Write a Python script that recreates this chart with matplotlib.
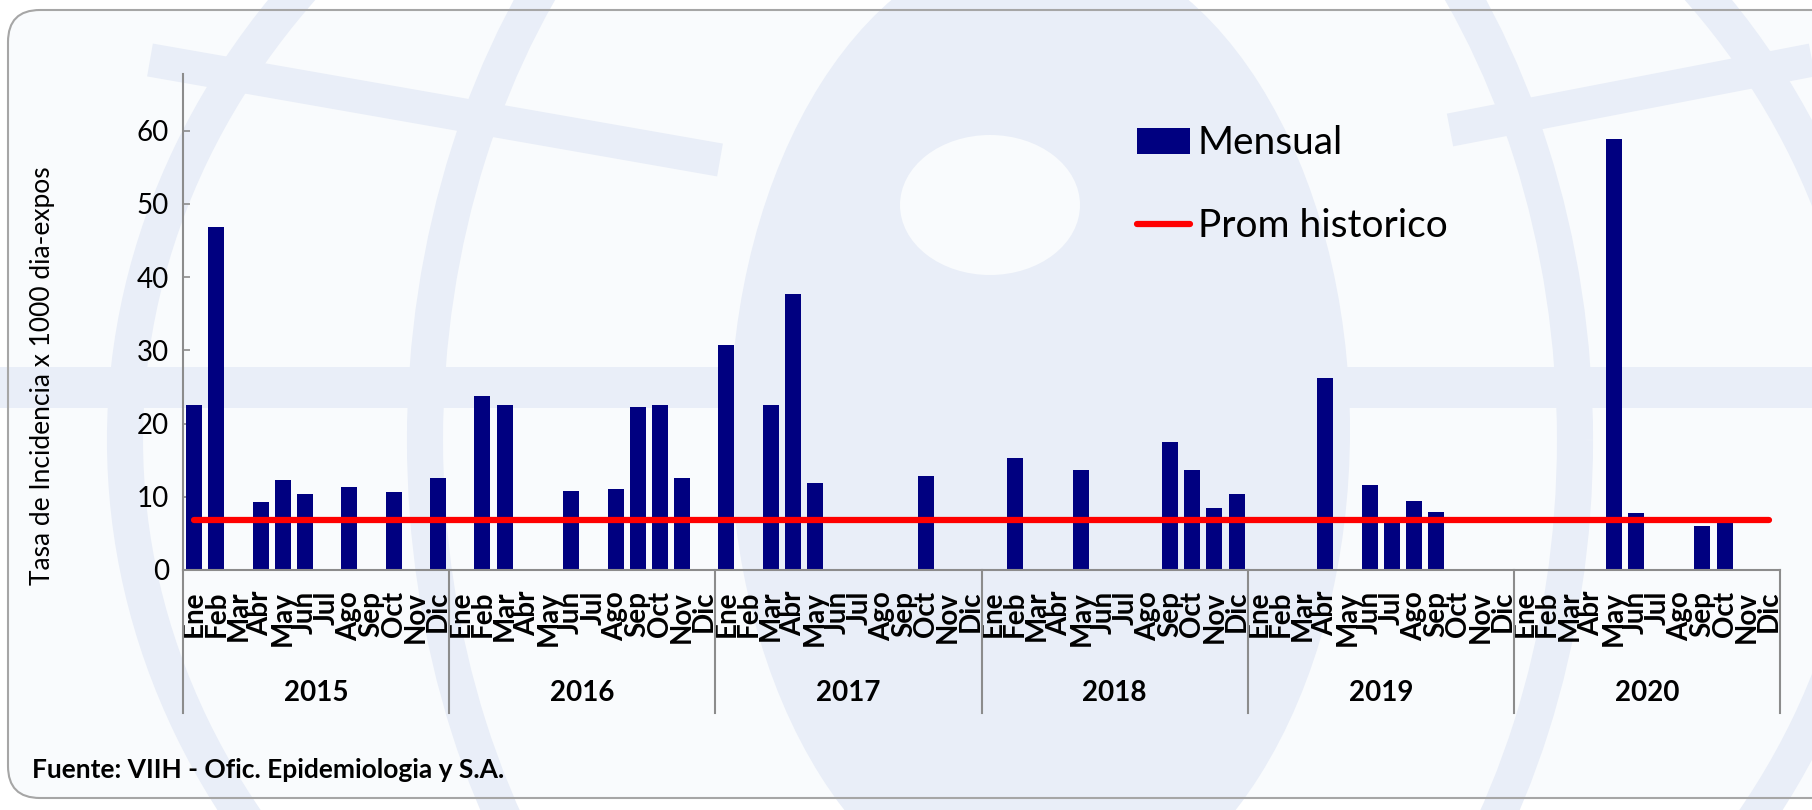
import matplotlib.pyplot as plt
import numpy as np
from matplotlib.patches import Ellipse, Arc, FancyBboxPatch, Rectangle
from matplotlib.transforms import blended_transform_factory

meses = ['Ene', 'Feb', 'Mar', 'Abr', 'May', 'Jun', 'Jul', 'Ago', 'Sep', 'Oct', 'Nov', 'Dic']
anios = ['2015', '2016', '2017', '2018', '2019', '2020']

# tasa mensual por año (0 = sin casos)
tasa_2015 = [22.6, 46.8, 0, 9.3, 12.3, 10.4, 0, 11.4, 0, 10.7, 0, 12.6]
tasa_2016 = [0, 23.7, 22.6, 0, 0, 10.8, 0, 11.1, 22.2, 22.6, 12.6, 0]
tasa_2017 = [30.7, 0, 22.6, 37.7, 11.9, 0, 0, 0, 0, 12.9, 0, 0]
tasa_2018 = [0, 15.3, 0, 0, 13.6, 0, 0, 0, 17.5, 13.7, 8.5, 10.4]
tasa_2019 = [0, 0, 0, 26.2, 0, 11.6, 6.8, 9.4, 7.9, 0, 0, 0]
tasa_2020 = [0, 0, 0, 0, 58.8, 7.8, 0, 0, 6.0, 6.9, 0, 0]
prom_historico = 6.8

mensual = tasa_2015 + tasa_2016 + tasa_2017 + tasa_2018 + tasa_2019 + tasa_2020
etiquetas = meses * len(anios)
x = np.arange(len(mensual))

plt.rcParams['font.family'] = ['Lato', 'DejaVu Sans']

W, H = 1812, 810
fig = plt.figure(figsize=(W / 100, H / 100), dpi=100)
fig.patch.set_facecolor('white')

# fondo con marca de agua
bg = fig.add_axes([0, 0, 1, 1], zorder=-5)
bg.set_xlim(0, W)
bg.set_ylim(H, 0)
bg.axis('off')
claro = '#e9eef8'
blanco = '#f9fbfd'
bg.add_patch(FancyBboxPatch((8, 10), W + 40, H - 22, boxstyle='round,pad=0,rounding_size=32',
                            facecolor=blanco, edgecolor='none'))
bg.add_patch(Rectangle((0, 367), W, 41, facecolor=claro, edgecolor='none'))
bg.add_patch(Ellipse((1040, 430), 620, 980, facecolor=claro, edgecolor='none'))
bg.add_patch(Ellipse((990, 205), 180, 140, facecolor=blanco, edgecolor='none'))
for w in [1750, 1150]:
    bg.add_artist(Arc((1000, 440), w, 1500, color=claro, linewidth=26))
bg.plot([150, 720], [60, 160], color=claro, linewidth=24, solid_capstyle='butt')
bg.plot([1450, 1812], [130, 60], color=claro, linewidth=24, solid_capstyle='butt')
bg.add_patch(FancyBboxPatch((8, 10), W + 40, H - 22, boxstyle='round,pad=0,rounding_size=32',
                            facecolor='none', edgecolor='#a6a6a6', linewidth=1.5))

ax = fig.add_axes([183 / W, 1 - 570 / H, (1780 - 183) / W, (570 - 73.5) / H])
ax.patch.set_alpha(0)

barras = ax.bar(x, mensual, width=0.72, color='#000080', zorder=2)
linea, = ax.plot(x, [prom_historico] * len(x), color='#ff0000', linewidth=4.5,
                 solid_capstyle='round', zorder=3)

ax.set_xlim(-0.5, len(x) - 0.5)
ax.set_ylim(0, 67.8)
ax.set_yticks([0, 10, 20, 30, 40, 50, 60])
ax.tick_params(axis='y', direction='in', length=5, width=1.2, color='#8c8c8c',
               labelsize=20, pad=10)
ax.set_xticks(x)
ax.set_xticklabels(etiquetas, rotation=90, fontsize=20, fontweight='bold', va='top')
ax.tick_params(axis='x', length=0, pad=15)
for s in ['top', 'right']:
    ax.spines[s].set_visible(False)
for s in ['left', 'bottom']:
    ax.spines[s].set_color('#8c8c8c')
    ax.spines[s].set_linewidth(1.5)

tr = blended_transform_factory(ax.transData, ax.transAxes)
for k in range(len(anios) + 1):
    ax.plot([k * 12 - 0.5] * 2, [0, -0.288], transform=tr, color='#8c8c8c',
            linewidth=1.5, clip_on=False)
for k, a in enumerate(anios):
    ax.text(k * 12 + 5.5, -0.248, a, transform=tr, ha='center', va='center',
            fontsize=20, fontweight='bold')

fig.text(43 / W, 1 - 375.5 / H, 'Tasa de Incidencia x 1000 dia-expos', rotation=90,
         ha='center', va='center', fontsize=19)
fig.text(32 / W, 1 - 770 / H, 'Fuente: VIIH - Ofic. Epidemiologia y S.A.',
         ha='left', va='center', fontsize=19, fontweight='bold')

ax.legend([barras, linea], ['Mensual', 'Prom historico'], loc='upper left',
          bbox_to_anchor=(1118 / W, 1 - 106 / H), bbox_transform=fig.transFigure,
          frameon=False, fontsize=28, borderpad=0, labelspacing=1.2,
          handlelength=1.35, handletextpad=0.2, handleheight=0.65)

fig.savefig('out.png', dpi=100)
